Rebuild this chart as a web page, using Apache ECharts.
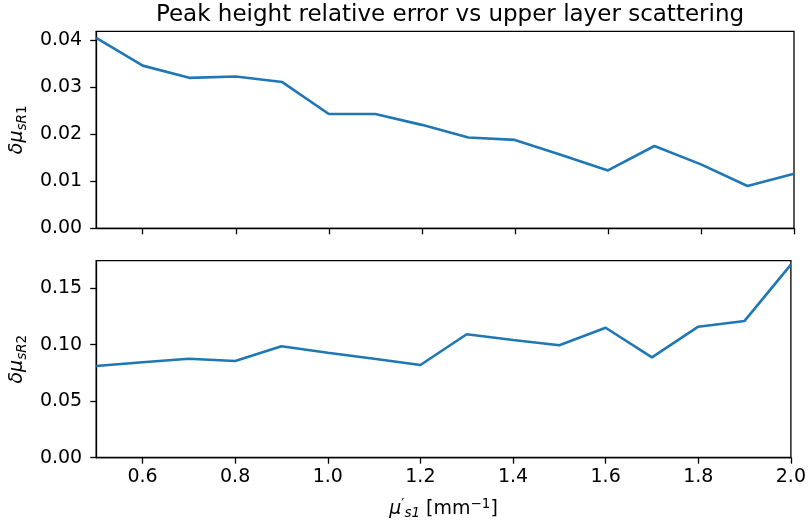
<!DOCTYPE html>
<html>
<head>
<meta charset="utf-8">
<script src="https://cdn.jsdelivr.net/npm/echarts@6/dist/echarts.min.js"></script>
<style>
  html, body { margin: 0; padding: 0; background: #fff; }
  #main { width: 809px; height: 529px; }
</style>
</head>
<body>
<div id="main"></div>
<script>
// scattering of upper layer, mu'_s1 [mm^-1]
var xValues = [0.5, 0.6, 0.7, 0.8, 0.9, 1.0, 1.1, 1.2, 1.3, 1.4, 1.5, 1.6, 1.7, 1.8, 1.9, 2.0];
// relative errors
var errR1 = [0.0405, 0.0346, 0.0320, 0.0323, 0.0311, 0.0243, 0.0243, 0.0220, 0.0193, 0.0188, 0.0156, 0.0123, 0.0175, 0.0136, 0.0090, 0.0116];
var errR2 = [0.0812, 0.0845, 0.0876, 0.0856, 0.0986, 0.0929, 0.0876, 0.0820, 0.1092, 0.1042, 0.0995, 0.1150, 0.0888, 0.1159, 0.1210, 0.1708];
// tick labels
var xTicks = [0.6, 0.8, 1.0, 1.2, 1.4, 1.6, 1.8, 2.0];
var yTicksR1 = [0, 0.01, 0.02, 0.03, 0.04];
var yTicksR2 = [0, 0.05, 0.10, 0.15];

var font = 'DejaVu Sans';
var pairs = function(ys){
    return xValues.map(function(x, i){ return [x, ys[i]]; });
};

var xAxisBase = function(idx, showLabels){
    return {
        type: 'value',
        gridIndex: idx,
        min: 0.5,
        max: 2.0,
        splitLine: { show: false },
        axisLine: { show: true, onZero: false, lineStyle: { color: '#000', width: 1.3 } },
        axisTick: { show: true, inside: false, length: 6, customValues: xTicks, lineStyle: { color: '#000', width: 1.3 } },
        axisLabel: {
            show: showLabels,
            customValues: xTicks,
            margin: 10,
            color: '#000',
            fontFamily: font,
            fontSize: 19,
            formatter: function(v){ return v.toFixed(1); }
        }
    };
};

var yAxisBase = function(idx, maxV, ticks, name){
    return {
        type: 'value',
        gridIndex: idx,
        min: 0,
        max: maxV,
        splitLine: { show: false },
        axisLine: { show: true, lineStyle: { color: '#000', width: 1.3 } },
        axisTick: { show: true, inside: false, length: 6, customValues: ticks, lineStyle: { color: '#000', width: 1.3 } },
        axisLabel: {
            customValues: ticks,
            margin: 14,
            color: '#000',
            fontFamily: font,
            fontSize: 19,
            formatter: function(v){ return v.toFixed(2); }
        },
        name: name,
        nameLocation: 'middle',
        nameRotate: 90,
        nameGap: 66,
        nameTextStyle: {
            color: '#000',
            fontFamily: font,
            rich: {
                a: { fontSize: 19, fontStyle: 'italic', fontFamily: font, color: '#000' },
                s: { fontSize: 13.5, fontStyle: 'italic', fontFamily: font, color: '#000', padding: [9, 0, 0, 0] },
                n: { fontSize: 13.5, fontFamily: font, color: '#000', padding: [9, 0, 0, 0] }
            }
        }
    };
};

var chart = echarts.init(document.getElementById('main'), null, { renderer: 'canvas' });
chart.setOption({
    backgroundColor: '#fff',
    animation: false,
    title: {
        text: 'Peak height relative error vs upper layer scattering',
        left: 445,
        textAlign: 'center',
        top: -1,
        textStyle: { fontFamily: font, fontSize: 23, fontWeight: 'normal', color: '#000' }
    },
    grid: [
        { left: 95.5, right: 15, top: 31.3, height: 197, show: true, borderColor: '#000', borderWidth: 1.3, containLabel: false },
        { left: 95.5, right: 15, top: 260.7, height: 197, show: true, borderColor: '#000', borderWidth: 1.3, containLabel: false }
    ],
    xAxis: [
        xAxisBase(0, false),
        Object.assign(xAxisBase(1, true), {
            name: '{m|μ}{p|′}{s|s1}{t| [mm}{q|−1}{t|]}',
            nameLocation: 'middle',
            nameGap: 40,
            nameTextStyle: {
                rich: {
                    m: { fontSize: 19, fontStyle: 'italic', fontFamily: font, color: '#000' },
                    p: { fontSize: 13.5, fontFamily: font, color: '#000', padding: [0, 0, 9, 0] },
                    s: { fontSize: 13.5, fontStyle: 'italic', fontFamily: font, color: '#000', padding: [9, 0, 0, 0] },
                    t: { fontSize: 19, fontFamily: font, color: '#000' },
                    q: { fontSize: 13.5, fontFamily: font, color: '#000', padding: [0, 0, 9, 0] }
                }
            }
        })
    ],
    yAxis: [
        yAxisBase(0, 0.0419, yTicksR1, '{a|δμ}{s|sR}{n|1}'),
        yAxisBase(1, 0.1743, yTicksR2, '{a|δμ}{s|sR}{n|2}')
    ],
    series: [
        {
            type: 'line',
            xAxisIndex: 0,
            yAxisIndex: 0,
            data: pairs(errR1),
            showSymbol: false,
            lineStyle: { color: '#1f77b4', width: 2.6 }
        },
        {
            type: 'line',
            xAxisIndex: 1,
            yAxisIndex: 1,
            data: pairs(errR2),
            showSymbol: false,
            lineStyle: { color: '#1f77b4', width: 2.6 }
        }
    ]
});
</script>
</body>
</html>
